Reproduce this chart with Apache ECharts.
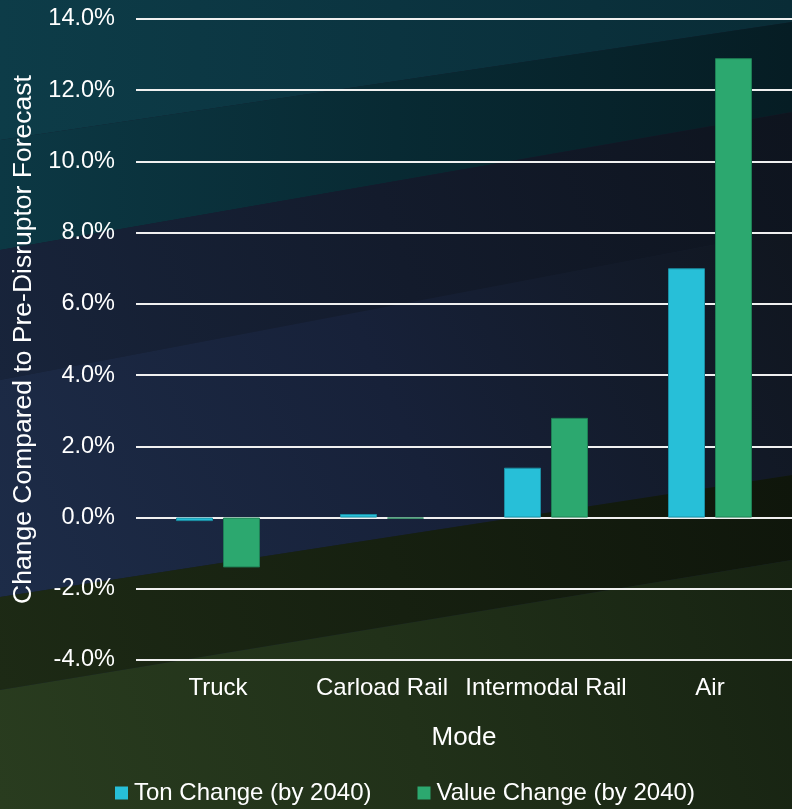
<!DOCTYPE html>
<html>
<head>
<meta charset="utf-8">
<script src="https://cdn.jsdelivr.net/npm/echarts@6/dist/echarts.min.js"></script>
<style>
html,body{margin:0;padding:0;background:#131b2c;}
#chart{width:792px;height:809px;}
</style>
</head>
<body>
<div id="chart"></div>
<script>
var categories = ['Truck', 'Carload Rail', 'Intermodal Rail', 'Air'];
var tonChange = [-0.1, 0.1, 1.4, 7.0];
var valueChange = [-1.4, -0.03, 2.8, 12.9];
var seriesNames = ['Ton Change (by 2040)', 'Value Change (by 2040)'];
var yTicks = { min: -4, max: 14, interval: 2 };

var FONT = '"Liberation Sans", Arial, Helvetica, sans-serif';
var W = 792, H = 809;

function lin(x, y, x2, y2, stops) {
  return new echarts.graphic.LinearGradient(x, y, x2, y2, stops.map(function (c, i) {
    return { offset: i / (stops.length - 1), color: c };
  }));
}
function band(points, fill) {
  return { type: 'polygon', silent: true, z: -100, shape: { points: points }, style: { fill: fill } };
}

var bg = [
  band([[0,0],[W,0],[W,22],[0,140]], lin(0,0,1,0,['#0d3c48','#0b3440','#092c36'])),
  band([[0,140],[W,22],[W,112],[0,250]], lin(0,0,1,0,['#0c3844','#082a33','#061d24'])),
  band([[0,250],[W,112],[W,230],[0,380]], lin(1,0,0,1,['#0e141e','#131b2c','#18243b'])),
  band([[0,380],[W,230],[W,475],[0,597]], lin(1,0,0,1,['#10161f','#172139','#1d2c48'])),
  band([[0,597],[W,475],[W,560],[0,690]], lin(1,0,0,1,['#0f160b','#162010','#1d2a15'])),
  band([[0,690],[W,560],[W,H],[0,H]], lin(1,0,0,1,['#172312','#213119','#293c1f']))
];

var chart = echarts.init(document.getElementById('chart'), null, { renderer: 'canvas' });
chart.setOption({
  backgroundColor: '#131b2c',
  animation: false,
  textStyle: { fontFamily: FONT },
  graphic: bg,
  grid: { left: 136, top: 19, width: 659, height: 641, containLabel: false },
  legend: {
    data: seriesNames,
    left: 115, top: 781, padding: 0,
    itemWidth: 13, itemHeight: 13, itemGap: 46,
    icon: 'rect',
    itemStyle: { borderWidth: 0 },
    textStyle: { color: '#ffffff', fontSize: 24, fontFamily: FONT, padding: [0, 0, 0, 1] }
  },
  xAxis: {
    type: 'category',
    data: categories,
    name: 'Mode',
    nameLocation: 'middle',
    nameGap: 65,
    nameTextStyle: { color: '#ffffff', fontSize: 26, fontFamily: FONT },
    axisLine: { show: false },
    axisTick: { show: false },
    axisLabel: { color: '#ffffff', fontSize: 24, fontFamily: FONT, margin: 16, interval: 0 }
  },
  yAxis: {
    type: 'value',
    min: yTicks.min, max: yTicks.max, interval: yTicks.interval,
    name: 'Change Compared to Pre-Disruptor Forecast',
    nameLocation: 'middle',
    nameGap: 94,
    nameTextStyle: { color: '#ffffff', fontSize: 26.5, fontFamily: FONT },
    axisLine: { show: false },
    axisTick: { show: false },
    axisLabel: {
      color: '#ffffff', fontSize: 23.5, fontFamily: FONT, margin: 21,
      formatter: function (v) { return v.toFixed(1) + '%'; }
    },
    splitLine: { show: true, lineStyle: { color: '#f0f0f0', width: 2 } }
  },
  series: [
    {
      name: seriesNames[0], type: 'bar', data: tonChange,
      barWidth: 37, barGap: '27%',
      itemStyle: { color: '#27bfd8', borderColor: '#1b8ea3', borderWidth: 1 }
    },
    {
      name: seriesNames[1], type: 'bar', data: valueChange,
      barWidth: 37, barGap: '27%',
      itemStyle: { color: '#2ca86f', borderColor: '#1f7f55', borderWidth: 1 }
    }
  ]
});
</script>
</body>
</html>
